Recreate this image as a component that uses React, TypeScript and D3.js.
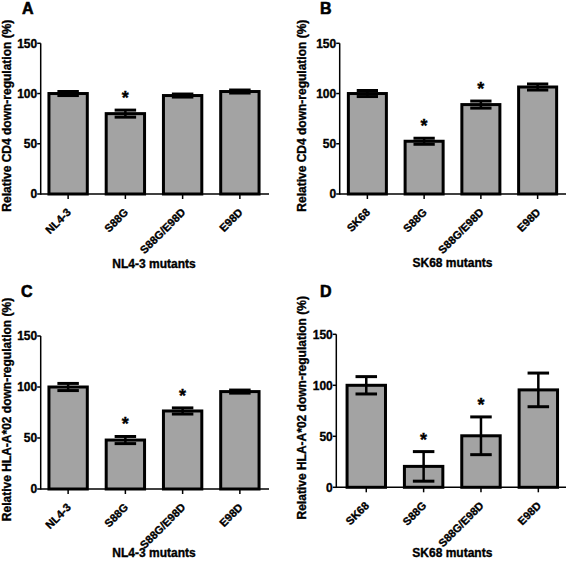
import React from "react";
import * as d3 from "d3";

const categoriesNL = ["NL4-3", "S88G", "S88G/E98D", "E98D"];
const categoriesSK = ["SK68", "S88G", "S88G/E98D", "E98D"];

const cd4NLMean = [100, 80, 98, 102];
const cd4NLErr = [2, 3.5, 1.5, 1.5];
const cd4NLSig = [false, true, false, false];

const cd4SKMean = [100, 52.5, 89, 106.5];
const cd4SKErr = [3, 3, 3.5, 3];
const cd4SKSig = [false, true, true, false];

const hlaNLMean = [100, 48, 76.5, 95.5];
const hlaNLErr = [3.5, 3.5, 3, 1.5];
const hlaNLSig = [false, true, true, false];

const hlaSKMean = [100, 20.5, 50.5, 95.5];
const hlaSKErr = [8.5, 14.5, 18.5, 16.5];
const hlaSKSig = [false, true, true, false];

const yTicks = [0, 50, 100, 150];
const yMax = 150;

const labelCD4 = "Relative CD4 down-regulation (%)";
const labelHLA = "Relative HLA-A*02 down-regulation (%)";
const titleNL = "NL4-3 mutants";
const titleSK = "SK68 mutants";

const FONT = "Liberation Sans, Arial, Helvetica, sans-serif";
const TS = { fontFamily: FONT, fontWeight: "bold" as const, fill: "#000", stroke: "#000", strokeWidth: 0.35 };

type PanelProps = {
  letter: string;
  cats: string[];
  mean: number[];
  err: number[];
  sig: boolean[];
  yLabel: string;
  xTitle: string;
  axisX: number;
  bandStart: number;
  bandEnd: number;
  xEnd: number;
  y0: number;
  yTop: number;
  letterX: number;
  letterY: number;
  yLabelX: number;
  xTitleY: number;
};

function Panel(p: PanelProps) {
  const x = d3
    .scaleBand<string>()
    .domain(p.cats)
    .range([p.bandStart, p.bandEnd])
    .paddingInner(0.33)
    .paddingOuter(0.165);
  const y = d3.scaleLinear().domain([0, yMax]).range([p.y0, p.yTop]);
  const bw = x.bandwidth();
  const capW = bw * 0.56;
  const midX = (p.bandStart + p.bandEnd) / 2;
  const midY = (p.y0 + p.yTop) / 2 - 3;
  return (
    <g>
      <text x={p.letterX} y={p.letterY} fontSize={16} {...TS} strokeWidth={0.6}>
        {p.letter}
      </text>
      <text
        transform={`translate(${p.yLabelX},${midY}) rotate(-90)`}
        textAnchor="middle"
        fontSize={12}
        {...TS}
      >
        {p.yLabel}
      </text>
      {p.cats.map((c, i) => {
        const cx = (x(c) as number) + bw / 2;
        const top = y(p.mean[i]);
        const eTop = y(p.mean[i] + p.err[i]);
        const eBot = y(p.mean[i] - p.err[i]);
        return (
          <g key={c + i}>
            <rect
              x={x(c)}
              y={top}
              width={bw}
              height={p.y0 - top}
              fill="#a3a3a3"
              stroke="#000"
              strokeWidth={3}
            />
            <line x1={cx} x2={cx} y1={eTop} y2={eBot} stroke="#000" strokeWidth={2.5} />
            <line x1={cx - capW / 2} x2={cx + capW / 2} y1={eTop} y2={eTop} stroke="#000" strokeWidth={3} />
            <line x1={cx - capW / 2} x2={cx + capW / 2} y1={eBot} y2={eBot} stroke="#000" strokeWidth={3} />
            {p.sig[i] && (
              <text x={cx} y={eTop - 6} textAnchor="middle" fontSize={18} {...TS}>
                *
              </text>
            )}
            <line x1={cx} x2={cx} y1={p.y0} y2={p.y0 + 5} stroke="#000" strokeWidth={1.5} />
            <text
              transform={`translate(${cx + 3.5},${p.y0 + 19}) rotate(-45)`}
              textAnchor="end"
              fontSize={11}
              {...TS}
            >
              {c}
            </text>
          </g>
        );
      })}
      <line x1={p.axisX} x2={p.xEnd} y1={p.y0} y2={p.y0} stroke="#000" strokeWidth={1.5} />
      <line x1={p.axisX} x2={p.axisX} y1={p.yTop} y2={p.y0 + 0.75} stroke="#000" strokeWidth={1.5} />
      {yTicks.map((t) => (
        <g key={t}>
          <line x1={p.axisX - 3.5} x2={p.axisX} y1={y(t)} y2={y(t)} stroke="#000" strokeWidth={1.5} />
          <text x={p.axisX - 3.5} y={y(t)} dy="0.36em" textAnchor="end" fontSize={12} {...TS}>
            {t}
          </text>
        </g>
      ))}
      <text x={midX} y={p.xTitleY} textAnchor="middle" fontSize={12} {...TS}>
        {p.xTitle}
      </text>
    </g>
  );
}

export default function App() {
  return (
    <svg
      width={567}
      height={563}
      style={{ position: "absolute", left: 0, top: 0, background: "#fff" }}
    >
      <rect width={567} height={563} fill="#fff" />
      <Panel
        letter="A"
        cats={categoriesNL}
        mean={cd4NLMean}
        err={cd4NLErr}
        sig={cd4NLSig}
        yLabel={labelCD4}
        xTitle={titleNL}
        axisX={40.7}
        bandStart={39.5}
        bandEnd={268.5}
        xEnd={269}
        y0={194}
        yTop={43.3}
        letterX={22}
        letterY={14}
        yLabelX={10.5}
        xTitleY={268}
      />
      <Panel
        letter="B"
        cats={categoriesSK}
        mean={cd4SKMean}
        err={cd4SKErr}
        sig={cd4SKSig}
        yLabel={labelCD4}
        xTitle={titleSK}
        axisX={339.7}
        bandStart={339}
        bandEnd={566}
        xEnd={566}
        y0={194}
        yTop={43.3}
        letterX={320}
        letterY={14}
        yLabelX={306}
        xTitleY={267}
      />
      <Panel
        letter="C"
        cats={categoriesNL}
        mean={hlaNLMean}
        err={hlaNLErr}
        sig={hlaNLSig}
        yLabel={labelHLA}
        xTitle={titleNL}
        axisX={40.7}
        bandStart={39.5}
        bandEnd={268.5}
        xEnd={269}
        y0={489}
        yTop={336}
        letterX={21}
        letterY={297}
        yLabelX={10.5}
        xTitleY={557}
      />
      <Panel
        letter="D"
        cats={categoriesSK}
        mean={hlaSKMean}
        err={hlaSKErr}
        sig={hlaSKSig}
        yLabel={labelHLA}
        xTitle={titleSK}
        axisX={336.3}
        bandStart={337.6}
        bandEnd={567}
        xEnd={566}
        y0={487.3}
        yTop={334.3}
        letterX={320}
        letterY={297}
        yLabelX={306}
        xTitleY={557}
      />
    </svg>
  );
}
